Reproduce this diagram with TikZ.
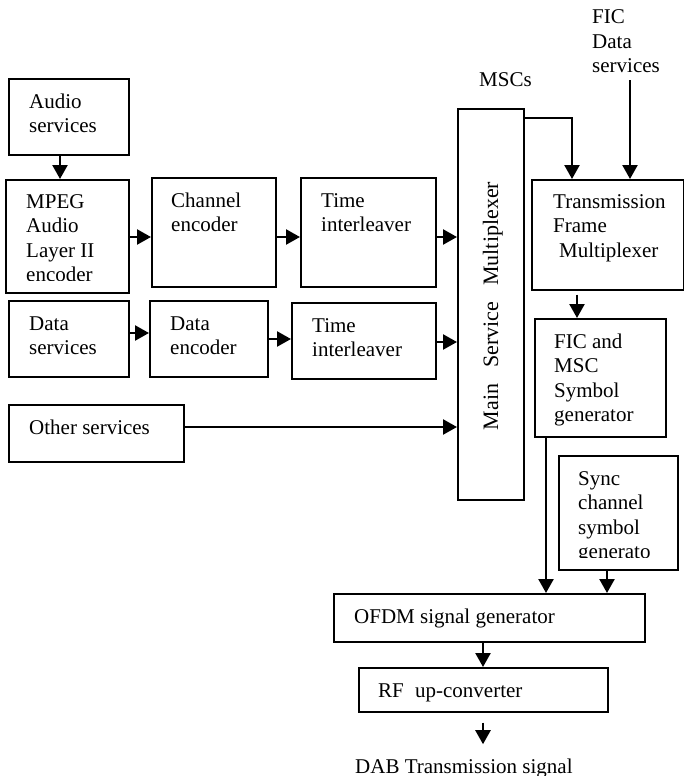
\documentclass[tikz,border=0pt]{standalone}
\usepackage{fontspec}
\setmainfont{Liberation Serif}
\usetikzlibrary{arrows.meta,calc}
\newcommand\mytxt[1]{\parbox[t]{7cm}{#1}}
\begin{document}
\begin{tikzpicture}[x=1pt,y=-1pt,
  box/.style={draw, line width=1.6pt, inner sep=0pt, anchor=north west},
  txt/.style={inner sep=0pt, anchor=base west, font=\fontsize{21}{24.5}\selectfont},
  arr/.style={line width=2.4pt, -{Triangle[length=14pt,width=15pt]}}]
\useasboundingbox (0,0) rectangle (684,776);

% boxes
\node[box, minimum width=120pt, minimum height=76pt]  (audio) at (8,78)    {};
\node[box, minimum width=123pt, minimum height=113pt] (mpeg)  at (5,179)   {};
\node[box, minimum width=124pt, minimum height=109pt] (chan)  at (151,177) {};
\node[box, minimum width=135pt, minimum height=109pt] (ti1)   at (300,177) {};
\node[box, minimum width=66pt,  minimum height=391pt] (msm)   at (457,108) {};
\node[box, minimum width=120pt, minimum height=76pt]  (data)  at (8,300)   {};
\node[box, minimum width=118pt, minimum height=76pt]  (denc)  at (149,300) {};
\node[box, minimum width=144pt, minimum height=76pt]  (ti2)   at (291,302) {};
\node[box, minimum width=175pt, minimum height=57pt]  (other) at (8,404)   {};
\node[box, minimum width=152pt, minimum height=110pt] (tfm)   at (531,179) {};
\node[box, minimum width=131pt, minimum height=118pt] (fic)   at (534,318) {};
\node[box, minimum width=119pt, minimum height=114pt] (sync)  at (558,455) {};
\node[box, minimum width=311pt, minimum height=48pt]  (ofdm)  at (333,593) {};
\node[box, minimum width=249pt, minimum height=44pt]  (rf)    at (358,667) {};

% texts
\node[txt] (taudio) at (29,108)  {\mytxt{Audio\\services}};
\begin{scope}
  \clip (0,0) rectangle (684,280.5);
  \node[txt] (tmpeg) at (26,208) {\mytxt{MPEG\\Audio\\Layer II\\encoder}};
\end{scope}
\node[txt] (tchan)  at (171,207) {\mytxt{Channel\\encoder}};
\node[txt] (tti1)   at (321,207) {\mytxt{Time\\interleaver}};
\node[txt] (tdata)  at (29,330)  {\mytxt{Data\\services}};
\node[txt] (tdenc)  at (170,330) {\mytxt{Data\\encoder}};
\node[txt] (tti2)   at (312,332) {\mytxt{Time\\interleaver}};
\node[txt] (tother) at (29,434)  {Other services};
\node[txt] (tmscs)  at (479,86)  {MSCs};
\node[txt] (tfic)   at (592,24)  {\mytxt{FIC\\Data\\services}};
\node[txt] (ttfm)   at (553,208) {\mytxt{Transmission\\Frame\\\hspace*{6pt}Multiplexer}};
\node[txt] (tficb)  at (554,348) {\mytxt{FIC and\\MSC\\Symbol\\generator}};
\begin{scope}
  \clip (0,0) rectangle (684,557);
  \node[txt] (tsync) at (578,485) {\mytxt{Sync\\channel\\symbol\\generato}};
\end{scope}
\node[txt] (tofdm)  at (354,623) {OFDM signal generator};
\node[txt] (trf)    at (378,697) {RF\hspace{6pt} up-converter};
\node[txt] (tdab)   at (355,773) {DAB Transmission signal};
\node[inner sep=0pt, rotate=90, anchor=base, font=\fontsize{22}{24}\selectfont]
  (tmsm) at (498,306) {Main\hspace{16pt}Service\hspace{16pt}Multiplexer};

% connectors
\draw[arr] (audio.south -| 60,0) -- (mpeg.north -| 60,0);
\draw[arr] (mpeg.east |- 0,237) -- (chan.west |- 0,237);
\draw[arr] (chan.east |- 0,237) -- (ti1.west |- 0,237);
\draw[arr] (ti1.east |- 0,237) -- (msm.west |- 0,237);
\draw[arr] (data.east |- 0,333) -- (denc.west |- 0,333);
\draw[arr] (denc.east |- 0,339) -- (ti2.west |- 0,339);
\draw[arr] (ti2.east |- 0,342) -- (msm.west |- 0,342);
\draw[arr] (other.east |- 0,427) -- (msm.west |- 0,427);
\draw[arr] ($(msm.north east)+(0,10)$) -| (tfm.north -| 572,0);
\draw[arr] ($(tfic.south -| 630,0)+(0,7)$) -- (tfm.north -| 630,0);
\draw[arr] ($(tfm.south -| 577,0)+(0,4)$) -- (fic.north -| 577,0);
\draw[arr] (fic.south -| 546,0) -- (ofdm.north -| 546,0);
\draw[arr] (sync.south -| 607,0) -- (ofdm.north -| 607,0);
\draw[arr] (ofdm.south -| 483,0) -- (rf.north -| 483,0);
\draw[arr] ($(rf.south -| 483,0)+(0,10)$) -- ($(tdab.north -| 483,0)+(0,-14)$);
\end{tikzpicture}
\end{document}
